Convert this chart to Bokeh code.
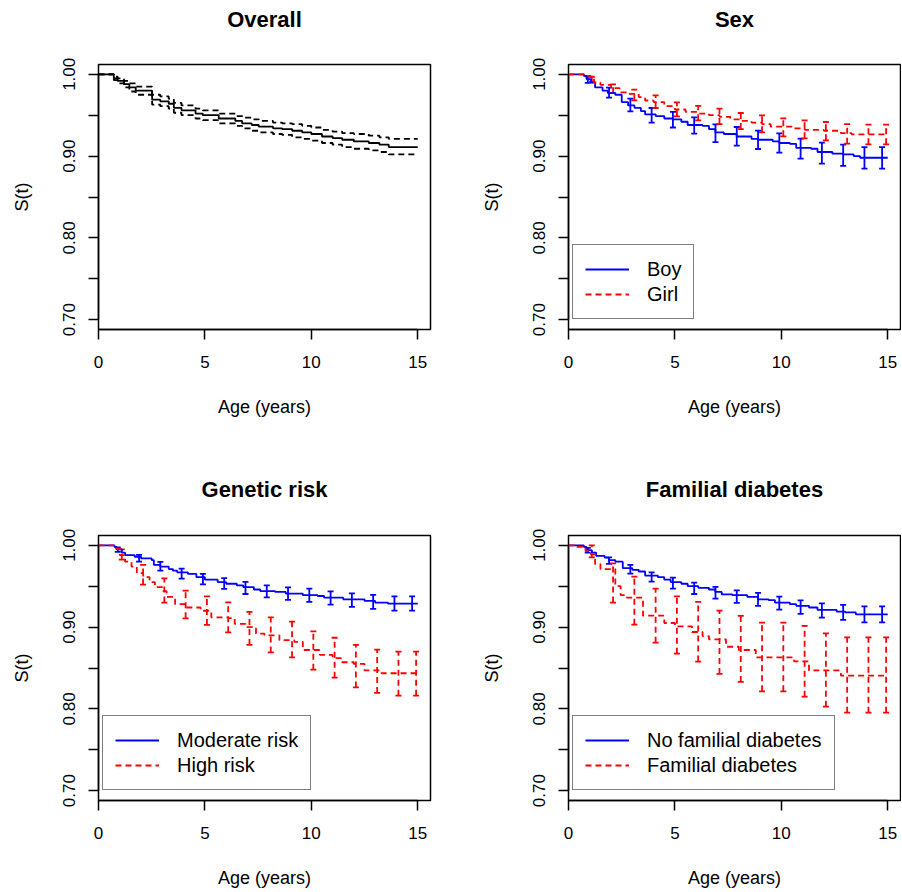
from bokeh.plotting import figure
from bokeh.models import (Range1d, FixedTicker, Whisker, TeeHead, ColumnDataSource,
                          Legend, LegendItem, Title)
from bokeh.layouts import gridplot
from bokeh.embed import file_html
from bokeh.resources import INLINE

FONT = "Liberation Sans"
BLUE = "#0000ff"
RED = "#ff0000"
BLACK = "#000000"
DASH = "6 4"
LW = 1.8

# ---------------- data ----------------
x_ticks = [0, 5, 10, 15]
y_ticks = [0.70, 0.75, 0.80, 0.85, 0.90, 0.95, 1.00]
y_tick_labels = ["0.70", "", "0.80", "", "0.90", "", "1.00"]
conf_times = [1, 2, 3, 4, 5, 6, 7, 8, 9, 10, 11, 12, 13, 14, 14.83]

# Overall
overall_t = [0, 0.72, 0.9, 1.2, 1.45, 1.75, 2.52, 2.9, 3.3, 3.54, 3.9, 4.56, 4.9, 5.65, 6.43,
             6.75, 7.2, 7.53, 8.2, 8.63, 9.1, 9.57, 10.0, 10.5, 11.0, 11.45, 12.0, 12.7, 13.2,
             13.64, 15.0]
overall_s = [1.0, 0.995, 0.992, 0.988, 0.984, 0.980, 0.969, 0.967, 0.964, 0.959, 0.956, 0.952,
             0.950, 0.946, 0.943, 0.940, 0.938, 0.936, 0.934, 0.933, 0.931, 0.929, 0.927, 0.924,
             0.922, 0.920, 0.918, 0.916, 0.914, 0.911, 0.911]
overall_upper = [1.0, 0.997, 0.995, 0.992, 0.989, 0.985, 0.975, 0.973, 0.970, 0.965, 0.962, 0.958,
                 0.956, 0.952, 0.949, 0.947, 0.945, 0.943, 0.941, 0.940, 0.939, 0.937, 0.935,
                 0.932, 0.930, 0.928, 0.927, 0.925, 0.923, 0.921, 0.921]
overall_lower = [1.0, 0.993, 0.989, 0.984, 0.979, 0.975, 0.963, 0.961, 0.958, 0.953, 0.950, 0.946,
                 0.944, 0.940, 0.937, 0.934, 0.931, 0.929, 0.927, 0.926, 0.923, 0.921, 0.919,
                 0.916, 0.914, 0.911, 0.909, 0.907, 0.905, 0.902, 0.902]

# Sex
boy_t = [0, 0.72, 0.85, 1.05, 1.25, 1.6, 1.85, 2.2, 2.5, 2.8, 3.1, 3.4, 3.6, 4.1, 4.5, 4.9, 5.3,
         5.6, 6.3, 6.6, 6.9, 7.3, 7.9, 8.6, 8.9, 9.6, 9.9, 10.4, 10.7, 11.4, 11.7, 12.4, 12.9,
         13.4, 13.7, 15.0]
boy_s = [1.0, 0.998, 0.994, 0.990, 0.984, 0.980, 0.977, 0.975, 0.966, 0.962, 0.959, 0.955, 0.951,
         0.949, 0.946, 0.945, 0.942, 0.938, 0.937, 0.933, 0.929, 0.927, 0.924, 0.921, 0.920,
         0.918, 0.916, 0.915, 0.910, 0.909, 0.905, 0.903, 0.902, 0.900, 0.898, 0.898]
boy_upper = [0.9975, 0.9837, 0.9703, 0.9588, 0.954, 0.9474, 0.9389, 0.9356, 0.9312, 0.9278,
             0.9213, 0.9164, 0.914, 0.911, 0.911]
boy_lower = [0.9895, 0.9715, 0.9548, 0.941, 0.935, 0.9275, 0.9172, 0.9128, 0.9087, 0.9042,
             0.8969, 0.8908, 0.888, 0.8847, 0.8847]
girl_t = [0, 0.9, 1.05, 1.2, 1.5, 2.0, 2.4, 2.8, 3.3, 3.6, 4.0, 4.5, 5.0, 5.5, 6.1, 6.6, 7.1, 7.6,
          8.1, 8.6, 9.1, 9.5, 10.5, 11.1, 12.0, 12.8, 13.3, 15.0]
girl_s = [1.0, 0.998, 0.995, 0.990, 0.987, 0.983, 0.978, 0.976, 0.972, 0.968, 0.966, 0.961, 0.957,
          0.954, 0.952, 0.950, 0.948, 0.945, 0.943, 0.941, 0.939, 0.936, 0.934, 0.932, 0.931,
          0.928, 0.9266, 0.9266]
girl_upper = [0.997, 0.9878, 0.9812, 0.9743, 0.9658, 0.9613, 0.958, 0.9527, 0.9499, 0.9462,
              0.9437, 0.9417, 0.9392, 0.9384, 0.9384]
girl_lower = [0.991, 0.977, 0.9682, 0.9588, 0.9486, 0.9437, 0.9392, 0.9331, 0.9291, 0.9242,
              0.9217, 0.9193, 0.9152, 0.9144, 0.9144]

# Genetic risk
mod_t = [0, 0.75, 0.85, 1.1, 1.25, 1.7, 2.0, 2.5, 2.6, 2.9, 3.3, 3.5, 3.7, 4.2, 4.6, 5.0, 5.6,
         6.0, 6.5, 6.8, 7.3, 7.6, 8.3, 8.8, 9.6, 10.3, 10.6, 11.5, 12.5, 13.0, 13.6, 15.0]
mod_s = [1.0, 0.998, 0.995, 0.991, 0.988, 0.986, 0.984, 0.982, 0.976, 0.974, 0.971, 0.969, 0.967,
         0.965, 0.961, 0.958, 0.955, 0.953, 0.951, 0.949, 0.946, 0.944, 0.943, 0.941, 0.939,
         0.938, 0.936, 0.934, 0.932, 0.930, 0.9287, 0.9287]
mod_upper = [0.9975, 0.9883, 0.9797, 0.9715, 0.965, 0.960, 0.9552, 0.9511, 0.9486, 0.947,
             0.9437, 0.9413, 0.9393, 0.9376, 0.9376]
mod_lower = [0.992, 0.980, 0.969, 0.9593, 0.9523, 0.9467, 0.9405, 0.9364, 0.9332, 0.9308,
             0.9275, 0.9247, 0.9222, 0.9201, 0.9201]
high_t = [0, 0.72, 1.0, 1.25, 1.55, 1.8, 2.1, 2.4, 2.65, 3.0, 3.2, 3.6, 4.1, 4.8, 5.3, 6.1, 6.4,
          6.9, 7.4, 7.8, 8.5, 9.2, 9.6, 10.4, 11.0, 11.4, 12.0, 12.5, 13.3, 15.0]
high_s = [1.0, 0.996, 0.988, 0.980, 0.974, 0.966, 0.961, 0.955, 0.949, 0.944, 0.937, 0.928,
          0.924, 0.920, 0.912, 0.911, 0.904, 0.900, 0.892, 0.890, 0.884, 0.882, 0.872, 0.866,
          0.862, 0.857, 0.855, 0.847, 0.8436, 0.8436]
high_upper = [0.9951, 0.976, 0.9597, 0.9446, 0.9376, 0.9303, 0.9185, 0.912, 0.9067, 0.8948,
              0.887, 0.8782, 0.8724, 0.870, 0.870]
high_lower = [0.9825, 0.952, 0.930, 0.9107, 0.9027, 0.8936, 0.8782, 0.8691, 0.863, 0.848,
              0.8382, 0.8263, 0.8195, 0.8162, 0.8162]

# Familial diabetes
nofam_t = [0, 0.72, 0.85, 1.1, 1.3, 1.7, 1.9, 2.2, 2.55, 3.0, 3.3, 3.6, 4.2, 4.5, 4.8, 5.3, 5.6,
           6.1, 6.6, 6.9, 7.2, 7.7, 8.4, 8.9, 9.4, 9.7, 10.4, 10.7, 11.3, 11.7, 12.6, 13.0,
           13.5, 15.0]
nofam_s = [1.0, 0.998, 0.994, 0.991, 0.987, 0.985, 0.982, 0.980, 0.972, 0.970, 0.968, 0.963,
           0.961, 0.958, 0.955, 0.953, 0.950, 0.948, 0.946, 0.943, 0.940, 0.939, 0.937, 0.934,
           0.933, 0.930, 0.928, 0.926, 0.924, 0.921, 0.919, 0.918, 0.9156, 0.9156]
nofam_upper = [0.9968, 0.9853, 0.976, 0.967, 0.9605, 0.9544, 0.9491, 0.945, 0.9418, 0.9373,
               0.9327, 0.9291, 0.9271, 0.9254, 0.9254]
nofam_lower = [0.9911, 0.9772, 0.9654, 0.9556, 0.947, 0.9405, 0.9348, 0.9296, 0.9259, 0.9214,
               0.9161, 0.9116, 0.9088, 0.9058, 0.9058]
fam_t = [0, 0.4, 0.8, 1.05, 1.25, 1.5, 2.2, 2.45, 2.75, 3.5, 4.5, 5.0, 5.8, 6.3, 6.6, 7.4, 8.0,
         8.8, 10.6, 11.3, 12.8, 15.0]
fam_s = [1.0, 0.998, 0.993, 0.989, 0.977, 0.971, 0.950, 0.939, 0.936, 0.914, 0.905, 0.901, 0.894,
         0.889, 0.885, 0.876, 0.872, 0.863, 0.858, 0.847, 0.8406, 0.8406]
fam_upper = [1.0, 0.978, 0.9617, 0.947, 0.9376, 0.9308, 0.9201, 0.9137, 0.9055, 0.9055,
             0.9014, 0.8924, 0.8875, 0.8875, 0.8875]
fam_lower = [0.9853, 0.930, 0.903, 0.881, 0.8675, 0.8578, 0.8427, 0.833, 0.8215, 0.8215,
             0.815, 0.8027, 0.7954, 0.7954, 0.7954]

# ---------------- styling / layout ----------------
CONF_OFFSET = 0.094  # horizontal offset of the two groups' error bars
FRAME_W = 332
FRAME_H = 265


def make_panel(title, row, col):
    top = row == 0
    left = col == 0
    mbl = 98 if left else 117
    mbr = 21 if left else 1
    mbt = 64 if top else 89
    mbb = 117 if top else 92
    p = figure(width=mbl + FRAME_W + mbr, height=mbt + FRAME_H + mbb,
               x_range=Range1d(0, 15.6), y_range=Range1d(0.688, 1.012),
               output_backend="svg", toolbar_location=None,
               min_border_left=mbl, min_border_right=mbr,
               min_border_top=mbt, min_border_bottom=mbb,
               title=None, background_fill_color="white", border_fill_color="white",
               outline_line_color="black", outline_line_width=1.5)
    p.xgrid.visible = False
    p.ygrid.visible = False

    # gap between plot region and title, then the bold title itself
    p.add_layout(Title(text=" ", text_font_size="1px", standoff=30 if top else 31), "above")
    p.add_layout(Title(text=title, align="center", text_font=FONT, text_font_size="22px",
                       text_font_style="bold", text_color="black", standoff=0), "above")

    xa = p.xaxis[0]
    xa.ticker = FixedTicker(ticks=x_ticks, minor_ticks=[])
    xa.bounds = (x_ticks[0], x_ticks[-1])
    xa.axis_label = "Age (years)"
    xa.axis_label_standoff = 26
    xa.major_label_standoff = 16

    ya = p.yaxis[0]
    ya.ticker = FixedTicker(ticks=y_ticks, minor_ticks=[])
    ya.bounds = (y_ticks[0], y_ticks[-1])
    ya.major_label_overrides = {t: lab for t, lab in zip(y_ticks, y_tick_labels)}
    ya.major_label_orientation = "vertical"
    ya.axis_label = "S(t)"
    ya.axis_label_standoff = 29
    ya.major_label_standoff = 13

    for ax in (xa, ya):
        ax.major_tick_out = 10
        ax.major_tick_in = 0
        ax.minor_tick_out = 0
        ax.minor_tick_in = 0
        ax.axis_line_width = 1.5
        ax.major_tick_line_width = 1.5
        ax.axis_line_color = "black"
        ax.major_tick_line_color = "black"
        ax.major_label_text_font = FONT
        ax.major_label_text_font_size = "17px"
        ax.major_label_text_color = "black"
        ax.axis_label_text_font = FONT
        ax.axis_label_text_font_size = "18px"
        ax.axis_label_text_font_style = "normal"
        ax.axis_label_text_color = "black"
    return p


def add_errorbars(p, upper, lower, offset, color, dash):
    src = ColumnDataSource(dict(t=[t + offset for t in conf_times], up=upper, lo=lower))
    w = Whisker(source=src, base="t", upper="up", lower="lo", dimension="height",
                line_color=color, line_width=LW, line_dash=dash,
                upper_head=TeeHead(size=6, line_color=color, line_width=LW),
                lower_head=TeeHead(size=6, line_color=color, line_width=LW))
    p.add_layout(w)


def add_legend(p, items):
    leg = Legend(items=[LegendItem(label=lab, renderers=[r]) for lab, r in items],
                 location=(4, 10), orientation="vertical",
                 border_line_color="black", border_line_width=1.5,
                 background_fill_color="white", background_fill_alpha=1.0,
                 padding=12, spacing=1, margin=0,
                 glyph_width=44, glyph_height=24, label_height=24, label_standoff=18,
                 label_text_font=FONT, label_text_font_size="20px",
                 label_text_color="black", label_text_baseline="middle")
    p.add_layout(leg)


# Overall
p1 = make_panel("Overall", 0, 0)
p1.step(overall_t, overall_upper, mode="after", line_color=BLACK, line_width=LW, line_dash=DASH)
p1.step(overall_t, overall_lower, mode="after", line_color=BLACK, line_width=LW, line_dash=DASH)
p1.step(overall_t, overall_s, mode="after", line_color=BLACK, line_width=LW)

# Sex
p2 = make_panel("Sex", 0, 1)
rb = p2.step(boy_t, boy_s, mode="after", line_color=BLUE, line_width=LW)
rg = p2.step(girl_t, girl_s, mode="after", line_color=RED, line_width=LW, line_dash=DASH)
add_errorbars(p2, boy_upper, boy_lower, -CONF_OFFSET, BLUE, "solid")
add_errorbars(p2, girl_upper, girl_lower, CONF_OFFSET, RED, DASH)
add_legend(p2, [("Boy", rb), ("Girl", rg)])

# Genetic risk
p3 = make_panel("Genetic risk", 1, 0)
rm = p3.step(mod_t, mod_s, mode="after", line_color=BLUE, line_width=LW)
rh = p3.step(high_t, high_s, mode="after", line_color=RED, line_width=LW, line_dash=DASH)
add_errorbars(p3, mod_upper, mod_lower, -CONF_OFFSET, BLUE, "solid")
add_errorbars(p3, high_upper, high_lower, CONF_OFFSET, RED, DASH)
add_legend(p3, [("Moderate risk", rm), ("High risk", rh)])

# Familial diabetes
p4 = make_panel("Familial diabetes", 1, 1)
rn = p4.step(nofam_t, nofam_s, mode="after", line_color=BLUE, line_width=LW)
rf = p4.step(fam_t, fam_s, mode="after", line_color=RED, line_width=LW, line_dash=DASH)
add_errorbars(p4, nofam_upper, nofam_lower, -CONF_OFFSET, BLUE, "solid")
add_errorbars(p4, fam_upper, fam_lower, CONF_OFFSET, RED, DASH)
add_legend(p4, [("No familial diabetes", rn), ("Familial diabetes", rf)])

grid = gridplot([[p1, p2], [p3, p4]], toolbar_location=None)

open("out.html", "w").write(file_html(grid, INLINE))
